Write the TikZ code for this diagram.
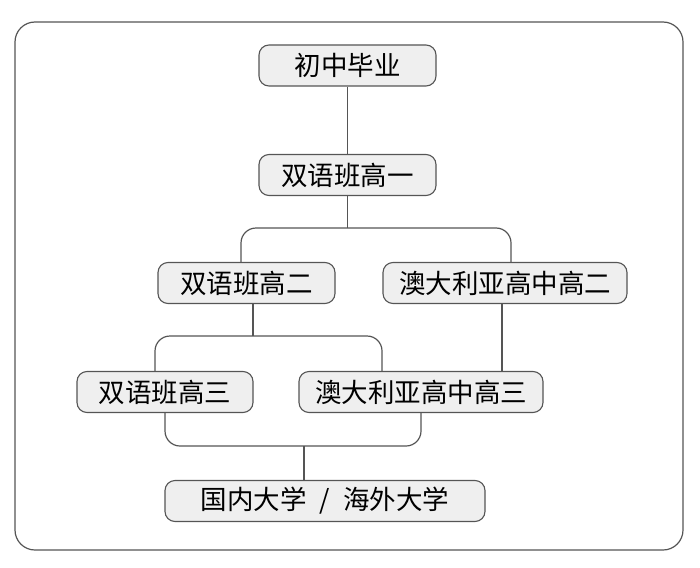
\documentclass[tikz,border=0pt]{standalone}
\usepackage{fontspec}
\newfontfamily\cjk{Noto Sans CJK SC}
\definecolor{boxfill}{HTML}{EFEFEF}
\definecolor{linec}{HTML}{555555}
\begin{document}
\begin{tikzpicture}[x=1pt,y=-1pt,
  stepbox/.style={draw=linec,fill=boxfill,line width=1.1pt,rounded corners=10pt,
    minimum height=41pt,inner sep=0pt,font=\cjk\fontsize{26.5}{26.5}\selectfont,text=black},
  conn/.style={draw=linec,line width=1.2pt,rounded corners=15pt}]
\useasboundingbox (0,0) rectangle (700,567);
\draw[linec,line width=1.2pt,rounded corners=20pt] (15,22) rectangle (683,550);
\node[stepbox,minimum width=177pt] (a) at (347.5,65.5) {初中毕业};
\node[stepbox,minimum width=177pt] (b) at (347.5,175) {双语班高一};
\node[stepbox,minimum width=177pt] (c) at (246.5,283) {双语班高二};
\node[stepbox,minimum width=244pt] (d) at (505,283) {澳大利亚高中高二};
\node[stepbox,minimum width=176pt] (e) at (165,392) {双语班高三};
\node[stepbox,minimum width=244pt] (f) at (421,392) {澳大利亚高中高三};
\node[stepbox,minimum width=320pt] (g) at (325,501) {国内大学\hspace{0.5em}/\hspace{0.5em}海外大学};
\coordinate (j1) at (347.5,228);
\coordinate (j2) at (253,336);
\coordinate (j3) at (304,446);
\draw[conn] (a) -- (b);
\draw[conn] (b.south) -- (j1);
\draw[conn] ([xshift=-5.5pt]c.north) |- (j1) -| ([xshift=6pt]d.north);
\draw[conn] ([xshift=6.5pt]c.south) -- (j2);
\draw[conn] ([xshift=-10pt]e.north) |- (j2) -| ([xshift=-39pt]f.north);
\draw[conn] ([xshift=-3pt]d.south) -- ([xshift=81pt]f.north);
\draw[conn] (e.south) |- (j3) -| (f.south);
\draw[conn] (j3) -- ([xshift=-21pt]g.north);
\end{tikzpicture}
\end{document}
